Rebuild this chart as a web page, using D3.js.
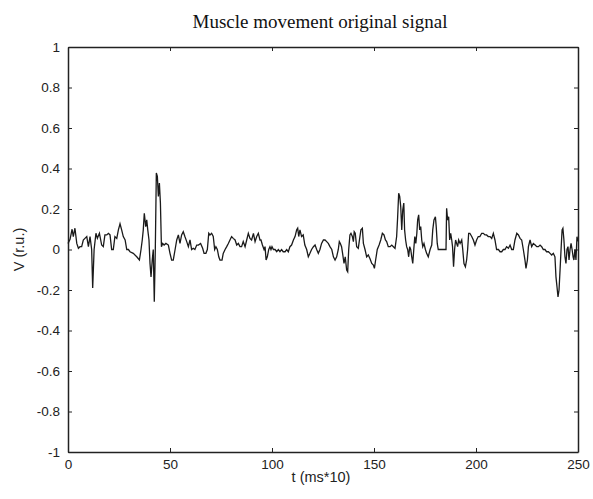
<html>
<meta charset="utf-8">

<head>
    <script src="https://d3js.org/d3.v7.min.js"></script>
    <style>
        body {
            margin: 0;
            background: #fff;
        }

        .tick text {
            font-family: "Liberation Sans", Arial, sans-serif;
            font-size: 13.5px;
            fill: #222;
        }

        .axisLabel {
            font-family: "Liberation Sans", Arial, sans-serif;
            font-size: 14.5px;
            fill: #222;
        }

        .title {
            font-family: "Liberation Serif", "Times New Roman", serif;
            font-size: 19px;
            fill: #111;
        }
    </style>
</head>

<svg id="chart" width="593" height="499"></svg>

<script>
    // signal samples (t in ms*10, V in r.u.)
    const tValues = [
        0, 1, 2, 2.6, 3.4, 4.3, 5.1, 5.9, 6.7, 7.5, 8.3, 9.2, 10, 10.8, 11.6, 12.1, 12.8, 13.7, 14.4, 15.4,
        16.5, 17.3, 18.1, 19, 19.8, 20.6, 21.4, 22.2, 23, 23.9, 24.7, 25.5, 26.3, 27.1, 28, 28.8, 29.6, 30.4,
        32, 33.7, 35, 35.8, 36.4, 36.9, 37.4, 38.1, 38.6, 39.1, 39.7, 40.2, 40.7, 41.3, 41.8, 42.3, 42.8,
        43.3, 43.8, 44.3, 44.8, 45.3, 45.8, 46.4, 47.1, 48, 49.2, 50, 50.8, 51.6, 52.5, 53.3, 54.1, 54.9,
        55.7, 56.5, 57.3, 58.2, 59, 59.8, 60.6, 61.4, 62.2, 63.1, 63.9, 65, 66, 66.7, 67.6, 68.3, 69, 69.6,
        70.4, 71.2, 71.9, 72.5, 73.2, 73.9, 74.5, 75.5, 76.1, 77, 77.8, 78.6, 79.4, 80.2, 81, 81.9, 82.7,
        83.5, 84.3, 85.1, 85.9, 86.8, 87.6, 88.4, 89.2, 90, 90.9, 91.7, 92.5, 93.3, 94.1, 94.6, 95.3, 96.1,
        96.6, 97.1, 97.7, 98.4, 99, 99.5, 100, 100.7, 101.5, 102.3, 103.1, 103.9, 104.7, 105.5, 106.4, 107.2,
        108, 108.8, 109.6, 110.5, 111.3, 112.1, 112.6, 113.1, 113.7, 114.5, 115.3, 116.1, 117, 117.8, 118.6,
        119.4, 120.3, 121.1, 121.9, 122.7, 123.5, 124.3, 125.2, 126, 126.8, 127.6, 128.4, 129.3, 130.1, 130.9,
        131.7, 132.5, 133, 133.5, 134.1, 134.6, 135.3, 135.9, 136.6, 137.1, 137.6, 138.2, 138.7, 139.4, 139.9,
        140.3, 140.8, 141.5, 142.3, 143.1, 143.6, 144.3, 144.8, 145.6, 146.4, 147.2, 148, 148.9, 149.7, 150.2,
        150.8, 151.6, 152.5, 153.3, 154.1, 154.9, 155.6, 156.2, 157, 157.9, 158.7, 159.5, 160.3, 161.1, 161.6,
        162.1, 162.6, 163.1, 163.6, 164.1, 164.6, 165, 165.5, 166, 166.5, 167, 167.5, 168, 168.5, 169, 169.5,
        170, 170.5, 171, 171.4, 171.9, 172.4, 172.9, 173.4, 173.9, 174.5, 175.2, 175.8, 176.6, 177.5, 178.3,
        178.8, 179.4, 180.1, 180.5, 181, 181.5, 182.4, 184, 185.3, 185.6, 186.1, 186.6, 187.1, 187.6, 188.1,
        188.5, 189, 189.5, 190, 190.5, 191, 191.5, 192.2, 193, 193.5, 194.1, 194.8, 195.4, 195.9, 196.4, 197,
        197.9, 198.7, 199.5, 200.3, 201.1, 201.9, 202.8, 203.6, 204.4, 205.2, 206, 206.9, 207.7, 208.5, 209.3,
        210.1, 211, 211.8, 212.6, 213.4, 214.2, 215, 215.9, 216.7, 217.5, 218.3, 219.1, 220, 220.8, 221.6,
        222.4, 223.2, 224, 224.5, 225.2, 225.7, 226.5, 227.3, 228.1, 229, 229.8, 230.6, 231.4, 232.2, 233,
        233.8, 234.6, 235.5, 236.3, 237.1, 237.9, 238.7, 239.2, 239.7, 240.2, 240.7, 241.2, 241.7, 242.2,
        242.6, 243.1, 243.6, 244.1, 244.6, 245.1, 245.6, 246.1, 246.6, 247.1, 247.6, 248, 248.5, 249, 249.5, 250
    ];
    const vValues = [
        0.03, 0.05, 0.1, 0.064, 0.105, 0.03, 0.006, 0.014, 0.014, 0.047, 0.055, 0.064, 0.014, 0.064, 0, -0.19, 0, 0.08, 0.055, 0.08,
        0.022, 0.014, 0.072, 0.072, 0.08, 0.072, 0, 0, 0.064, 0.055, 0.097, 0.127, 0.097, 0.064, 0.047, 0, 0, -0.011,
        -0.019, -0.036, -0.052, 0, 0.047, 0.097, 0.179, 0.113, 0.146, 0.097, 0.047, -0.069, -0.135, -0.052, 0, -0.258, 0,
        0.378, 0.361, 0.262, 0.328, 0.229, 0.014, 0.03, 0.022, 0.03, 0.022, -0.019, -0.052, -0.052, 0, 0.047, 0.072, 0.03,
        0.072, 0.088, 0.064, 0.039, 0.014, 0.047, 0, 0.006, 0, 0.022, 0.022, 0.03, 0.006, -0.019, -0.019, 0, 0.08, 0.072,
        0.08, 0.064, 0, 0.014, 0, -0.036, -0.052, -0.052, -0.019, 0, 0.014, 0.03, 0.047, 0.064, 0.055, 0.047, 0.022,
        0.03, 0.014, 0.014, 0.039, 0.014, 0.047, 0.08, 0.055, 0.047, 0.08, 0.039, 0.064, 0.08, 0.047, 0.047, 0.022, 0,
        0.014, -0.052, -0.036, 0, 0.014, 0, 0.014, 0, 0, -0.011, 0, -0.011, 0, -0.011, -0.011, 0,
        -0.011, 0.014, 0.022, 0.047, 0.064, 0.097, 0.105, 0.064, 0.097, 0.064, 0.072, 0.022, 0, -0.036, -0.019,
        0, 0.014, 0.022, 0, -0.019, 0, 0.03, 0.047, 0.047, 0.039, 0.03, 0.014, 0, -0.036, -0.052,
        -0.036, 0, 0.039, 0.03, 0.014, -0.019, -0.069, -0.036, -0.102, -0.11, 0, 0.072, 0.08, 0.064, 0.039,
        0.088, 0.08, 0.014, 0.006, 0.064, 0.097, 0.105, 0.03, 0, -0.036, -0.027, -0.044, -0.069, -0.077, -0.093,
        -0.052, 0, 0.022, 0.047, 0.08, 0.072, 0.047, 0.039, 0.014, 0.014, 0.022, 0.014, 0.006, 0.064, 0.162,
        0.278, 0.262, 0.212, 0.097, 0.196, 0.229, 0.097, 0.047, 0.014, 0, -0.036, 0.014, 0, -0.036, -0.069, 0,
        0.064, 0.03, 0.08, 0.146, 0.171, 0.097, 0.113, 0.047, 0.014, 0.03, 0, -0.019, -0.036, 0, 0.022,
        0.097, 0.146, 0.162, 0.113, 0.03, 0, 0, 0, 0, 0.204, 0.146, 0.162, 0.047, 0.08, 0.047,
        0.014, -0.085, 0, 0.047, 0.03, 0.014, 0.047, 0.03, 0.047, 0, -0.069, -0.085, -0.052, 0, 0.08, 0.08,
        0.064, 0.047, 0.022, 0.047, 0.064, 0.064, 0.08, 0.08, 0.072, 0.072, 0.064, 0.064, 0.055, 0.08, 0.047,
        0, 0, -0.011, -0.011, 0, 0, 0.014, 0.006, 0.022, 0, 0, 0.047, 0.08, 0.072, 0.055,
        0.047, 0, -0.052, -0.093, -0.052, 0.014, 0.047, 0.014, 0.03, 0.022, 0.014, 0.014, 0.022, 0.014, 0,
        0, -0.011, -0.011, -0.019, -0.027, -0.019, -0.036, -0.135, -0.184, -0.234, -0.2, -0.102, 0, 0.097,
        0.105, 0.047, -0.036, -0.069, 0, 0.014, -0.052, 0, 0.03, 0, -0.036, -0.052, 0, -0.052, 0.063, 0.04
    ];
    const xTicks = [0, 50, 100, 150, 200, 250];
    const yTicks = [-1, -0.8, -0.6, -0.4, -0.2, 0, 0.2, 0.4, 0.6, 0.8, 1];

    const svg = d3.select('svg#chart');
    const margin = { top: 47, right: 15, bottom: 47, left: 68 };
    const width = +svg.attr('width');
    const height = +svg.attr('height');
    const chartWidth = width - margin.left - margin.right;
    const chartHeight = height - margin.top - margin.bottom;

    const xScale = d3.scaleLinear().domain([0, 250]).range([0, chartWidth]);
    const yScale = d3.scaleLinear().domain([-1, 1]).range([chartHeight, 0]);

    const chart = svg.append('g')
        .attr('transform', `translate(${margin.left},${margin.top})`);

    // matlab style box: inward ticks on all four sides, plain hyphen for minus
    const fmtY = d => String(+d.toFixed(1));
    chart.append('g')
        .attr('transform', `translate(0,${chartHeight})`)
        .call(d3.axisBottom(xScale).tickValues(xTicks).tickSizeInner(-4).tickSizeOuter(0).tickPadding(7));
    chart.append('g')
        .call(d3.axisTop(xScale).tickValues(xTicks).tickSizeInner(-4).tickSizeOuter(0).tickFormat(''));
    chart.append('g')
        .call(d3.axisLeft(yScale).tickValues(yTicks).tickSizeInner(-4).tickSizeOuter(0).tickPadding(8).tickFormat(fmtY));
    chart.append('g')
        .attr('transform', `translate(${chartWidth},0)`)
        .call(d3.axisRight(yScale).tickValues(yTicks).tickSizeInner(-4).tickSizeOuter(0).tickFormat(''));

    chart.selectAll('.domain').attr('stroke', '#222').attr('stroke-width', 1.5);
    chart.selectAll('.tick line').attr('stroke', '#222');

    const signal = tValues.map((t, i) => ({ t: t, v: vValues[i] }));
    const lineGen = d3.line()
        .x(d => xScale(d.t))
        .y(d => yScale(d.v));

    chart.append('path')
        .datum(signal)
        .attr('fill', 'none')
        .attr('stroke', '#1a1a1a')
        .attr('stroke-width', 1.3)
        .attr('d', lineGen);

    // labels
    svg.append('text').attr('class', 'title')
        .attr('x', 320)
        .attr('y', 28)
        .attr('text-anchor', 'middle')
        .text('Muscle movement original signal');

    svg.append('text').attr('class', 'axisLabel')
        .attr('x', margin.left + chartWidth / 2 - 2)
        .attr('y', height - 17)
        .attr('text-anchor', 'middle')
        .text('t (ms*10)');

    svg.append('text').attr('class', 'axisLabel')
        .attr('transform', `translate(24,${margin.top + chartHeight / 2}) rotate(-90)`)
        .attr('text-anchor', 'middle')
        .text('V (r.u.)');
</script>

</html>
